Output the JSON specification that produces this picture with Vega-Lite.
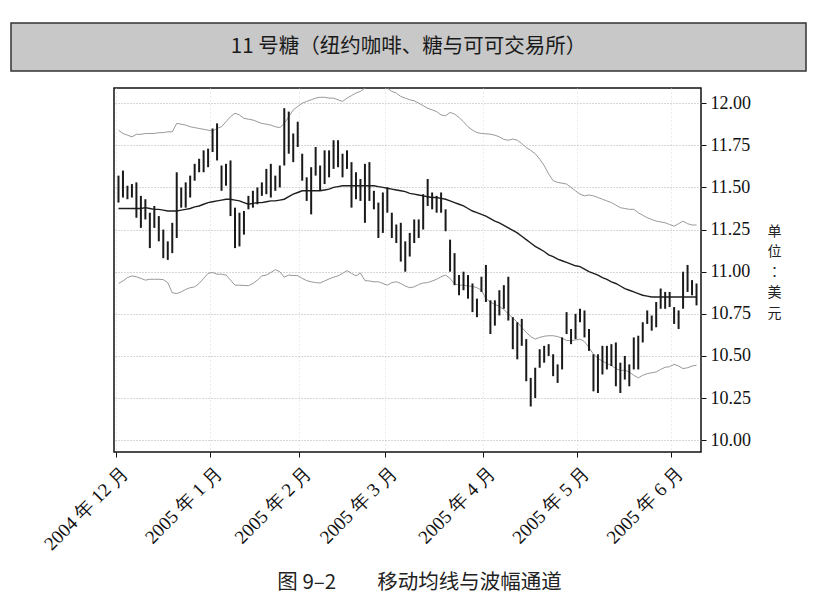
{
  "$schema": "https://vega.github.io/schema/vega-lite/v6.json",
  "background": "white",
  "padding": {"left": 10, "top": 22, "right": 10, "bottom": 5},
  "config": {
    "view": {"stroke": "#111", "strokeWidth": 1.5},
    "font": "Noto Sans CJK SC"
  },
  "datasets": {
    "sugar": [
      {"date": "2004-12-01", "high": 11.57, "low": 11.41, "ma": 11.375, "upper": 11.84, "lower": 10.93},
      {"date": "2004-12-02", "high": 11.60, "low": 11.44, "ma": 11.375, "upper": 11.82, "lower": 10.945},
      {"date": "2004-12-03", "high": 11.51, "low": 11.43, "ma": 11.375, "upper": 11.81, "lower": 10.965},
      {"date": "2004-12-06", "high": 11.52, "low": 11.44, "ma": 11.375, "upper": 11.80, "lower": 10.975},
      {"date": "2004-12-07", "high": 11.53, "low": 11.32, "ma": 11.375, "upper": 11.815, "lower": 10.97},
      {"date": "2004-12-08", "high": 11.45, "low": 11.26, "ma": 11.375, "upper": 11.815, "lower": 10.96},
      {"date": "2004-12-09", "high": 11.43, "low": 11.31, "ma": 11.38, "upper": 11.82, "lower": 10.95},
      {"date": "2004-12-10", "high": 11.35, "low": 11.14, "ma": 11.375, "upper": 11.82, "lower": 10.955},
      {"date": "2004-12-13", "high": 11.39, "low": 11.26, "ma": 11.37, "upper": 11.82, "lower": 10.955},
      {"date": "2004-12-14", "high": 11.33, "low": 11.18, "ma": 11.37, "upper": 11.825, "lower": 10.955},
      {"date": "2004-12-15", "high": 11.25, "low": 11.08, "ma": 11.365, "upper": 11.825, "lower": 10.953},
      {"date": "2004-12-16", "high": 11.18, "low": 11.07, "ma": 11.36, "upper": 11.83, "lower": 10.935},
      {"date": "2004-12-17", "high": 11.29, "low": 11.11, "ma": 11.36, "upper": 11.83, "lower": 10.875},
      {"date": "2004-12-20", "high": 11.59, "low": 11.20, "ma": 11.36, "upper": 11.88, "lower": 10.87},
      {"date": "2004-12-21", "high": 11.50, "low": 11.38, "ma": 11.365, "upper": 11.875, "lower": 10.88},
      {"date": "2004-12-22", "high": 11.53, "low": 11.38, "ma": 11.37, "upper": 11.87, "lower": 10.895},
      {"date": "2004-12-23", "high": 11.57, "low": 11.44, "ma": 11.375, "upper": 11.86, "lower": 10.905},
      {"date": "2004-12-27", "high": 11.64, "low": 11.54, "ma": 11.385, "upper": 11.855, "lower": 10.91},
      {"date": "2004-12-28", "high": 11.67, "low": 11.59, "ma": 11.39, "upper": 11.85, "lower": 10.93},
      {"date": "2004-12-29", "high": 11.72, "low": 11.59, "ma": 11.40, "upper": 11.845, "lower": 10.96},
      {"date": "2004-12-30", "high": 11.73, "low": 11.62, "ma": 11.41, "upper": 11.84, "lower": 10.99},
      {"date": "2005-01-03", "high": 11.85, "low": 11.71, "ma": 11.415, "upper": 11.835, "lower": 10.995},
      {"date": "2005-01-04", "high": 11.88, "low": 11.66, "ma": 11.42, "upper": 11.85, "lower": 10.985},
      {"date": "2005-01-05", "high": 11.63, "low": 11.48, "ma": 11.425, "upper": 11.86, "lower": 10.985},
      {"date": "2005-01-06", "high": 11.64, "low": 11.51, "ma": 11.43, "upper": 11.89, "lower": 10.98},
      {"date": "2005-01-07", "high": 11.66, "low": 11.33, "ma": 11.43, "upper": 11.92, "lower": 10.95},
      {"date": "2005-01-10", "high": 11.38, "low": 11.14, "ma": 11.425, "upper": 11.94, "lower": 10.92},
      {"date": "2005-01-11", "high": 11.35, "low": 11.15, "ma": 11.42, "upper": 11.93, "lower": 10.92},
      {"date": "2005-01-12", "high": 11.36, "low": 11.22, "ma": 11.41, "upper": 11.91, "lower": 10.918},
      {"date": "2005-01-13", "high": 11.45, "low": 11.37, "ma": 11.40, "upper": 11.905, "lower": 10.917},
      {"date": "2005-01-14", "high": 11.48, "low": 11.38, "ma": 11.405, "upper": 11.90, "lower": 10.93},
      {"date": "2005-01-18", "high": 11.50, "low": 11.40, "ma": 11.41, "upper": 11.89, "lower": 10.95},
      {"date": "2005-01-19", "high": 11.53, "low": 11.45, "ma": 11.41, "upper": 11.88, "lower": 10.975},
      {"date": "2005-01-20", "high": 11.61, "low": 11.46, "ma": 11.415, "upper": 11.875, "lower": 10.98},
      {"date": "2005-01-21", "high": 11.64, "low": 11.44, "ma": 11.42, "upper": 11.87, "lower": 10.995},
      {"date": "2005-01-24", "high": 11.57, "low": 11.48, "ma": 11.42, "upper": 11.86, "lower": 11.012},
      {"date": "2005-01-25", "high": 11.63, "low": 11.50, "ma": 11.425, "upper": 11.855, "lower": 11.0},
      {"date": "2005-01-26", "high": 11.97, "low": 11.63, "ma": 11.43, "upper": 11.88, "lower": 10.967},
      {"date": "2005-01-27", "high": 11.95, "low": 11.70, "ma": 11.445, "upper": 11.92, "lower": 10.98},
      {"date": "2005-01-28", "high": 11.82, "low": 11.65, "ma": 11.46, "upper": 11.96, "lower": 10.977},
      {"date": "2005-01-31", "high": 11.89, "low": 11.74, "ma": 11.47, "upper": 11.98, "lower": 10.977},
      {"date": "2005-02-01", "high": 11.70, "low": 11.54, "ma": 11.48, "upper": 12.00, "lower": 10.96},
      {"date": "2005-02-02", "high": 11.56, "low": 11.42, "ma": 11.48, "upper": 12.01, "lower": 10.947},
      {"date": "2005-02-03", "high": 11.62, "low": 11.34, "ma": 11.48, "upper": 12.02, "lower": 10.94},
      {"date": "2005-02-04", "high": 11.74, "low": 11.57, "ma": 11.48, "upper": 12.03, "lower": 10.935},
      {"date": "2005-02-07", "high": 11.63, "low": 11.48, "ma": 11.48, "upper": 12.035, "lower": 10.933},
      {"date": "2005-02-08", "high": 11.72, "low": 11.52, "ma": 11.485, "upper": 12.035, "lower": 10.945},
      {"date": "2005-02-09", "high": 11.72, "low": 11.56, "ma": 11.49, "upper": 12.03, "lower": 10.957},
      {"date": "2005-02-10", "high": 11.78, "low": 11.61, "ma": 11.50, "upper": 12.03, "lower": 10.967},
      {"date": "2005-02-11", "high": 11.78, "low": 11.62, "ma": 11.505, "upper": 12.02, "lower": 10.975},
      {"date": "2005-02-14", "high": 11.70, "low": 11.56, "ma": 11.51, "upper": 12.01, "lower": 10.99},
      {"date": "2005-02-15", "high": 11.72, "low": 11.61, "ma": 11.51, "upper": 12.03, "lower": 11.006},
      {"date": "2005-02-16", "high": 11.65, "low": 11.38, "ma": 11.51, "upper": 12.045, "lower": 10.99},
      {"date": "2005-02-17", "high": 11.59, "low": 11.43, "ma": 11.51, "upper": 12.06, "lower": 10.975},
      {"date": "2005-02-18", "high": 11.55, "low": 11.42, "ma": 11.51, "upper": 12.07, "lower": 10.992},
      {"date": "2005-02-22", "high": 11.64, "low": 11.29, "ma": 11.51, "upper": 12.09, "lower": 10.947},
      {"date": "2005-02-23", "high": 11.65, "low": 11.42, "ma": 11.51, "upper": 12.10, "lower": 10.945},
      {"date": "2005-02-24", "high": 11.48, "low": 11.37, "ma": 11.51, "upper": 12.11, "lower": 10.94},
      {"date": "2005-02-25", "high": 11.41, "low": 11.20, "ma": 11.505, "upper": 12.11, "lower": 10.94},
      {"date": "2005-02-28", "high": 11.47, "low": 11.23, "ma": 11.50, "upper": 12.10, "lower": 10.93},
      {"date": "2005-03-01", "high": 11.50, "low": 11.35, "ma": 11.495, "upper": 12.09, "lower": 10.92},
      {"date": "2005-03-02", "high": 11.35, "low": 11.20, "ma": 11.49, "upper": 12.07, "lower": 10.935},
      {"date": "2005-03-03", "high": 11.28, "low": 11.17, "ma": 11.485, "upper": 12.06, "lower": 10.94},
      {"date": "2005-03-04", "high": 11.29, "low": 11.06, "ma": 11.48, "upper": 12.04, "lower": 10.93},
      {"date": "2005-03-07", "high": 11.18, "low": 11.00, "ma": 11.475, "upper": 12.03, "lower": 10.915},
      {"date": "2005-03-08", "high": 11.23, "low": 11.09, "ma": 11.465, "upper": 12.02, "lower": 10.905},
      {"date": "2005-03-09", "high": 11.31, "low": 11.17, "ma": 11.46, "upper": 12.014, "lower": 10.91},
      {"date": "2005-03-10", "high": 11.31, "low": 11.20, "ma": 11.455, "upper": 12.00, "lower": 10.924},
      {"date": "2005-03-11", "high": 11.46, "low": 11.25, "ma": 11.45, "upper": 11.985, "lower": 10.933},
      {"date": "2005-03-14", "high": 11.55, "low": 11.39, "ma": 11.445, "upper": 11.97, "lower": 10.935},
      {"date": "2005-03-15", "high": 11.47, "low": 11.37, "ma": 11.44, "upper": 11.96, "lower": 10.945},
      {"date": "2005-03-16", "high": 11.45, "low": 11.35, "ma": 11.44, "upper": 11.95, "lower": 10.955},
      {"date": "2005-03-17", "high": 11.47, "low": 11.35, "ma": 11.435, "upper": 11.93, "lower": 10.97},
      {"date": "2005-03-18", "high": 11.37, "low": 11.24, "ma": 11.43, "upper": 11.925, "lower": 10.98},
      {"date": "2005-03-21", "high": 11.19, "low": 11.00, "ma": 11.42, "upper": 11.945, "lower": 10.96},
      {"date": "2005-03-22", "high": 11.11, "low": 10.92, "ma": 11.41, "upper": 11.935, "lower": 10.927},
      {"date": "2005-03-23", "high": 10.98, "low": 10.86, "ma": 11.40, "upper": 11.915, "lower": 10.92},
      {"date": "2005-03-24", "high": 11.00, "low": 10.89, "ma": 11.39, "upper": 11.89, "lower": 10.92},
      {"date": "2005-03-28", "high": 10.98, "low": 10.84, "ma": 11.375, "upper": 11.86, "lower": 10.915},
      {"date": "2005-03-29", "high": 10.93, "low": 10.76, "ma": 11.36, "upper": 11.84, "lower": 10.913},
      {"date": "2005-03-30", "high": 10.84, "low": 10.73, "ma": 11.35, "upper": 11.826, "lower": 10.905},
      {"date": "2005-03-31", "high": 10.97, "low": 10.88, "ma": 11.34, "upper": 11.82, "lower": 10.89},
      {"date": "2005-04-01", "high": 11.04, "low": 10.82, "ma": 11.33, "upper": 11.818, "lower": 10.84},
      {"date": "2005-04-04", "high": 10.83, "low": 10.63, "ma": 11.315, "upper": 11.816, "lower": 10.82},
      {"date": "2005-04-05", "high": 10.83, "low": 10.68, "ma": 11.30, "upper": 11.81, "lower": 10.805},
      {"date": "2005-04-06", "high": 10.89, "low": 10.74, "ma": 11.29, "upper": 11.80, "lower": 10.795},
      {"date": "2005-04-07", "high": 10.92, "low": 10.78, "ma": 11.275, "upper": 11.785, "lower": 10.775},
      {"date": "2005-04-08", "high": 10.97, "low": 10.71, "ma": 11.26, "upper": 11.78, "lower": 10.75},
      {"date": "2005-04-11", "high": 10.73, "low": 10.54, "ma": 11.245, "upper": 11.787, "lower": 10.725},
      {"date": "2005-04-12", "high": 10.70, "low": 10.48, "ma": 11.23, "upper": 11.78, "lower": 10.70},
      {"date": "2005-04-13", "high": 10.72, "low": 10.56, "ma": 11.21, "upper": 11.76, "lower": 10.67},
      {"date": "2005-04-14", "high": 10.60, "low": 10.35, "ma": 11.19, "upper": 11.737, "lower": 10.64},
      {"date": "2005-04-15", "high": 10.37, "low": 10.20, "ma": 11.17, "upper": 11.72, "lower": 10.615},
      {"date": "2005-04-18", "high": 10.43, "low": 10.25, "ma": 11.15, "upper": 11.70, "lower": 10.60},
      {"date": "2005-04-19", "high": 10.54, "low": 10.43, "ma": 11.135, "upper": 11.668, "lower": 10.61},
      {"date": "2005-04-20", "high": 10.56, "low": 10.46, "ma": 11.12, "upper": 11.63, "lower": 10.617},
      {"date": "2005-04-21", "high": 10.57, "low": 10.50, "ma": 11.10, "upper": 11.58, "lower": 10.62},
      {"date": "2005-04-22", "high": 10.51, "low": 10.38, "ma": 11.09, "upper": 11.54, "lower": 10.62},
      {"date": "2005-04-25", "high": 10.45, "low": 10.34, "ma": 11.075, "upper": 11.53, "lower": 10.615},
      {"date": "2005-04-26", "high": 10.61, "low": 10.42, "ma": 11.065, "upper": 11.525, "lower": 10.605},
      {"date": "2005-04-27", "high": 10.76, "low": 10.63, "ma": 11.055, "upper": 11.52, "lower": 10.592},
      {"date": "2005-04-28", "high": 10.66, "low": 10.57, "ma": 11.045, "upper": 11.50, "lower": 10.59},
      {"date": "2005-04-29", "high": 10.75, "low": 10.60, "ma": 11.035, "upper": 11.48, "lower": 10.595},
      {"date": "2005-05-02", "high": 10.78, "low": 10.70, "ma": 11.03, "upper": 11.46, "lower": 10.60},
      {"date": "2005-05-03", "high": 10.77, "low": 10.61, "ma": 11.015, "upper": 11.45, "lower": 10.585},
      {"date": "2005-05-04", "high": 10.66, "low": 10.53, "ma": 11.00, "upper": 11.455, "lower": 10.55},
      {"date": "2005-05-05", "high": 10.51, "low": 10.29, "ma": 10.99, "upper": 11.45, "lower": 10.51},
      {"date": "2005-05-06", "high": 10.51, "low": 10.28, "ma": 10.98, "upper": 11.44, "lower": 10.485},
      {"date": "2005-05-09", "high": 10.56, "low": 10.39, "ma": 10.965, "upper": 11.43, "lower": 10.47},
      {"date": "2005-05-10", "high": 10.56, "low": 10.42, "ma": 10.955, "upper": 11.42, "lower": 10.455},
      {"date": "2005-05-11", "high": 10.57, "low": 10.44, "ma": 10.94, "upper": 11.41, "lower": 10.443},
      {"date": "2005-05-12", "high": 10.58, "low": 10.32, "ma": 10.93, "upper": 11.395, "lower": 10.425},
      {"date": "2005-05-13", "high": 10.46, "low": 10.28, "ma": 10.915, "upper": 11.38, "lower": 10.414},
      {"date": "2005-05-16", "high": 10.50, "low": 10.36, "ma": 10.90, "upper": 11.375, "lower": 10.415},
      {"date": "2005-05-17", "high": 10.45, "low": 10.32, "ma": 10.89, "upper": 11.37, "lower": 10.405},
      {"date": "2005-05-18", "high": 10.61, "low": 10.42, "ma": 10.88, "upper": 11.37, "lower": 10.385},
      {"date": "2005-05-19", "high": 10.62, "low": 10.42, "ma": 10.87, "upper": 11.35, "lower": 10.37},
      {"date": "2005-05-20", "high": 10.70, "low": 10.58, "ma": 10.86, "upper": 11.335, "lower": 10.385},
      {"date": "2005-05-23", "high": 10.77, "low": 10.69, "ma": 10.855, "upper": 11.32, "lower": 10.395},
      {"date": "2005-05-24", "high": 10.74, "low": 10.65, "ma": 10.85, "upper": 11.31, "lower": 10.40},
      {"date": "2005-05-25", "high": 10.82, "low": 10.67, "ma": 10.85, "upper": 11.30, "lower": 10.405},
      {"date": "2005-05-26", "high": 10.90, "low": 10.78, "ma": 10.85, "upper": 11.295, "lower": 10.42},
      {"date": "2005-05-27", "high": 10.88, "low": 10.78, "ma": 10.85, "upper": 11.29, "lower": 10.433},
      {"date": "2005-05-31", "high": 10.88, "low": 10.79, "ma": 10.85, "upper": 11.28, "lower": 10.436},
      {"date": "2005-06-01", "high": 10.79, "low": 10.69, "ma": 10.85, "upper": 11.27, "lower": 10.45},
      {"date": "2005-06-02", "high": 10.77, "low": 10.66, "ma": 10.85, "upper": 11.285, "lower": 10.44},
      {"date": "2005-06-03", "high": 11.00, "low": 10.78, "ma": 10.85, "upper": 11.30, "lower": 10.425},
      {"date": "2005-06-06", "high": 11.04, "low": 10.88, "ma": 10.85, "upper": 11.285, "lower": 10.43},
      {"date": "2005-06-07", "high": 10.95, "low": 10.86, "ma": 10.85, "upper": 11.277, "lower": 10.44},
      {"date": "2005-06-08", "high": 10.93, "low": 10.80, "ma": 10.85, "upper": 11.277, "lower": 10.445}
    ]
  },
  "spacing": 15,
  "vconcat": [
    {
      "width": 795,
      "height": 48,
      "view": {"fill": "#c8c8c8", "stroke": "#333", "strokeWidth": 1.5},
      "data": {"values": [{"t": "11 号糖（纽约咖啡、糖与可可交易所）"}]},
      "mark": {"type": "text", "fontSize": 20.5, "font": "Noto Sans CJK SC", "color": "#1a1a1a"},
      "encoding": {"text": {"field": "t"}}
    },
    {
      "bounds": "flush",
      "spacing": 0,
      "hconcat": [
        {
          "width": 103,
          "height": 364,
          "view": {"stroke": null},
          "data": {"values": [{}]},
          "mark": "text",
          "encoding": {"text": {"value": ""}}
        },
        {
          "width": 587,
          "height": 364,
          "data": {"name": "sugar"},
          "title": {
            "text": "图 9–2\u3000\u3000移动均线与波幅通道",
            "orient": "bottom",
            "anchor": "middle",
            "frame": "group",
            "offset": 19,
            "dx": 12,
            "font": "Noto Sans CJK SC",
            "fontSize": 20.5,
            "fontWeight": "normal",
            "color": "#222"
          },
          "encoding": {
            "x": {
              "field": "date",
              "type": "ordinal",
              "scale": {"type": "band", "paddingInner": 0, "paddingOuter": 0.5},
              "axis": {
                "title": null,
                "values": ["2004-12-01", "2005-01-03", "2005-02-01", "2005-03-01", "2005-04-01", "2005-05-02", "2005-06-01"],
                "bandPosition": 0,
                "labelExpr": "slice(datum.value, 0, 4) + ' 年 ' + toNumber(slice(datum.value, 5, 7)) + ' 月'",
                "labelAngle": -45,
                "labelFont": "Liberation Serif",
                "labelFontSize": 19,
                "labelColor": "#111",
                "labelPadding": 6,
                "labelOverlap": false,
                "tickColor": "#111",
                "tickSize": 5,
                "domain": false,
                "grid": true,
                "gridColor": "#d8d8d8",
                "gridDash": [1, 3]
              }
            }
          },
          "layer": [
            {
              "mark": {"type": "line", "color": "#8c8c8c", "strokeWidth": 0.9, "clip": true},
              "encoding": {
                "y": {
                  "field": "upper",
                  "type": "quantitative",
                  "scale": {"domain": [9.93, 12.09], "nice": false, "zero": false},
                  "axis": {
                    "orient": "right",
                    "values": [10, 10.25, 10.5, 10.75, 11, 11.25, 11.5, 11.75, 12],
                    "format": ".2f",
                    "labelFont": "Liberation Serif",
                    "labelFontSize": 18,
                    "labelColor": "#111",
                    "labelPadding": 4,
                    "tickColor": "#111",
                    "tickSize": 5,
                    "domain": false,
                    "grid": true,
                    "gridColor": "#9a9a9a",
                    "gridDash": [1, 2],
                    "gridWidth": 0.8,
                    "title": ["单", "位", "：", "美", "元"],
                    "titleAngle": 0,
                    "titleFont": "Noto Sans CJK TC",
                    "titleFontSize": 14,
                    "titleFontWeight": "normal",
                    "titleColor": "#222",
                    "titleLineHeight": 20.5,
                    "titleAlign": "center",
                    "titleBaseline": "top",
                    "titleX": 73,
                    "titleY": 136
                  }
                }
              }
            },
            {
              "mark": {"type": "line", "color": "#8c8c8c", "strokeWidth": 0.9, "clip": true},
              "encoding": {"y": {"field": "lower", "type": "quantitative"}}
            },
            {
              "mark": {"type": "line", "color": "#1e1e1e", "strokeWidth": 1.4},
              "encoding": {"y": {"field": "ma", "type": "quantitative"}}
            },
            {
              "mark": {"type": "rule", "color": "#1a1a1a", "strokeWidth": 2},
              "encoding": {
                "y": {"field": "low", "type": "quantitative"},
                "y2": {"field": "high"}
              }
            }
          ]
        }
      ]
    }
  ]
}
